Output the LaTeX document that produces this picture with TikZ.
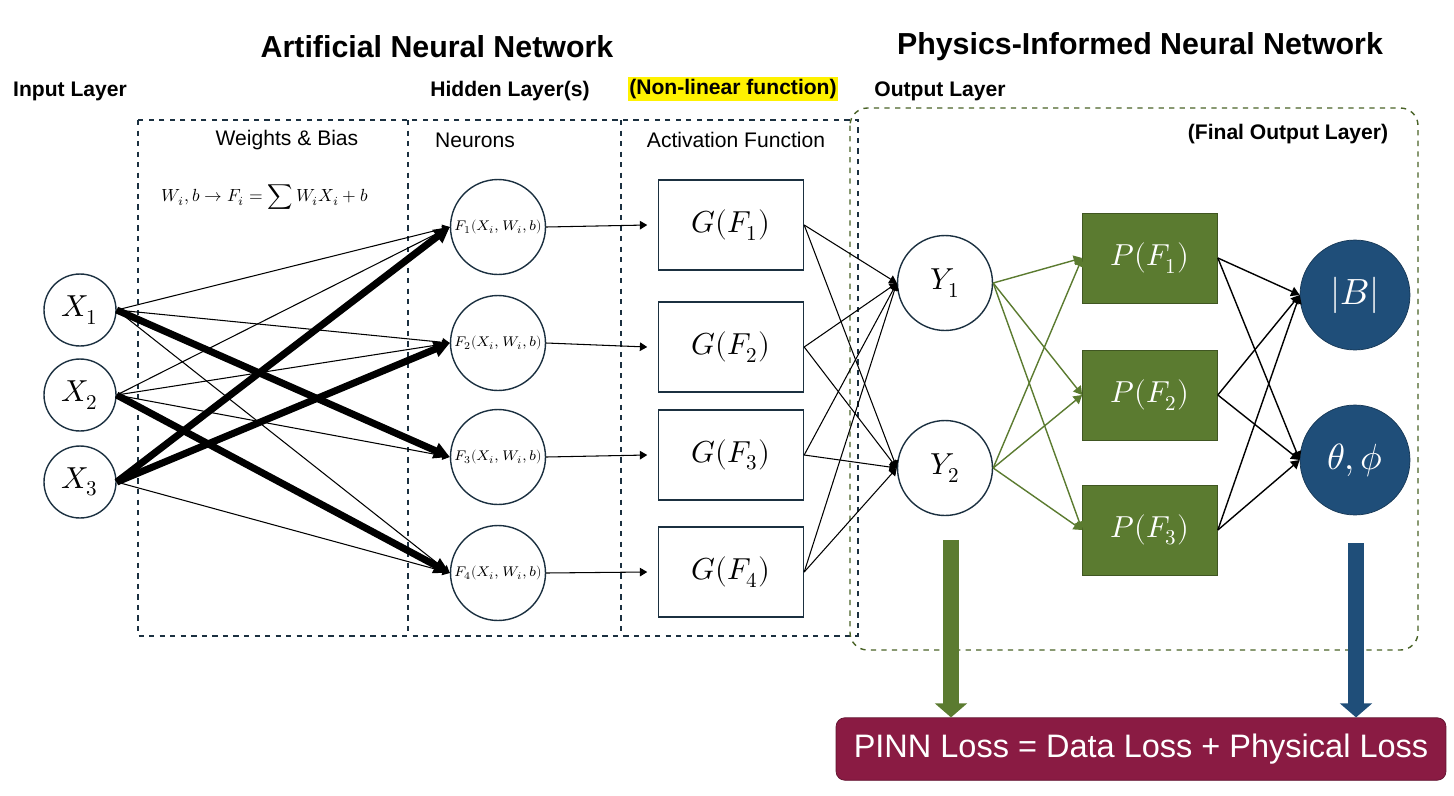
\documentclass[tikz,border=0pt]{standalone}
\usepackage{fontspec}
\setmainfont{Liberation Sans}
\usepackage{unicode-math}
\setmathfont{Latin Modern Math}
\usetikzlibrary{arrows.meta,positioning}
\definecolor{olive}{HTML}{5B7B30}
\definecolor{navy}{HTML}{1F4E79}
\definecolor{maroon}{HTML}{8A1B43}
\definecolor{ring}{HTML}{1B3040}
\begin{document}
\begin{tikzpicture}[
        x=0.02cm, y=-0.02cm,
        every node/.style={font=\small},
        inp/.style={circle, draw=ring, thick, minimum size=1.44cm, inner sep=0pt, font=\LARGE},
        neuron/.style={circle, draw=ring, thick, minimum size=1.9cm, inner sep=0pt, font=\footnotesize},
        act/.style={rectangle, draw=ring, thick, minimum width=2.9cm, minimum height=1.8cm, font=\LARGE},
        outc/.style={circle, draw=ring, thick, minimum size=1.9cm, inner sep=0pt, font=\LARGE},
        phys/.style={rectangle, draw=olive!70!black, fill=olive, text=white, minimum width=2.7cm, minimum height=1.8cm, font=\LARGE},
        final/.style={circle, draw=navy!70!black, fill=navy, text=white, minimum size=2.2cm, inner sep=0pt, font=\huge},
        head/.style={font=\bfseries\LARGE},
        sub/.style={font=\bfseries\large},
        lbl/.style={font=\large},
        line/.style={-Triangle, semithick},
        heavy/.style={-{Triangle[length=9pt,width=9pt]}, line width=4pt},
        gline/.style={-Triangle, olive, thick},
        fat/.style={-{Triangle[length=8pt,width=18pt]}, line width=9pt}
    ]
        \useasboundingbox (0,0) rectangle (1454,795);
        % headings
        \node[head] at (437,47) {Artificial Neural Network};
        \node[head] at (1140,47) {Physics-Informed Neural Network};
        \node[sub] at (70,91) {Input Layer};
        \node[sub] at (510,91) {Hidden Layer(s)};
        \node[sub, fill=yellow, inner sep=1pt] at (733,89) {(Non-linear function)};
        \node[sub] at (940,91) {Output Layer};
        \node[sub] at (1288,134) {(Final Output Layer)};
        % frames
        \draw[dashed, thick, ring] (138,120) rectangle (858,636);
        \draw[dashed, thick, ring] (408,120) -- (408,636);
        \draw[dashed, thick, ring] (621,120) -- (621,636);
        \draw[dashed, thick, olive!80!black, rounded corners=10pt] (850,108) rectangle (1418,650);
        \node[lbl] at (287,140) {Weights \& Bias};
        \node[lbl] at (475,140) {Neurons};
        \node[lbl] at (736,140) {Activation Function};
        \node[font=\normalsize] at (265,197) {$W_i, b \rightarrow F_i = \displaystyle\sum W_i X_i + b$};
        % nodes
        \node[inp] (x1) at (80,310) {$X_1$};
        \node[inp] (x2) at (80,395) {$X_2$};
        \node[inp] (x3) at (80,482) {$X_3$};
        \foreach \i/\y in {1/227,2/343,3/457,4/573}{
            \node[neuron] (f\i) at (498,\y) {$F_\i(X_i,W_i,b)$};
        }
        \foreach \i/\y in {1/225,2/347,3/455,4/572}{
            \node[act] (g\i) at (731,\y) {$G(F_\i)$};
        }
        \node[outc] (y1) at (945,283) {$Y_1$};
        \node[outc] (y2) at (945,468) {$Y_2$};
        \node[phys] (p1) at (1150,258) {$P(F_1)$};
        \node[phys] (p2) at (1150,395) {$P(F_2)$};
        \node[phys] (p3) at (1150,530) {$P(F_3)$};
        \node[final] (b) at (1355,295) {$|B|$};
        \node[final] (t) at (1355,460) {$\theta,\phi$};
        \node[rectangle, rounded corners=5pt, fill=maroon, draw=maroon!70!black, text=white, inner sep=0pt, minimum width=12.2cm, minimum height=1.25cm, font=\fontsize{18.5}{22}\selectfont] (loss) at (1141,749) {PINN Loss = Data Loss + Physical Loss};
        % input to neurons
        \foreach \a/\b in {x1/f1,x1/f2,x1/f4,x2/f1,x2/f2,x2/f3,x3/f4}{
            \draw[line] (\a.east) -- (\b.west);
        }
        \foreach \a/\b in {x1/f3,x2/f4,x3/f1,x3/f2}{
            \draw[heavy] (\a.east) -- (\b.west);
        }
        % neurons to activation
        \foreach \i in {1,...,4}{
            \draw[line] (f\i.east) -- ([xshift=-6pt]g\i.west);
        }
        % activation to outputs
        \foreach \i in {1,...,4}{
            \draw[line] (g\i.east) -- (y1.west);
            \draw[line] (g\i.east) -- (y2.west);
        }
        % outputs to physics
        \foreach \a in {y1,y2}{
            \foreach \b in {p1,p2,p3}{
                \draw[gline] (\a.east) -- (\b.west);
            }
        }
        % physics to final
        \foreach \a in {p1,p2,p3}{
            \draw[line, thick] (\a.east) -- (b.west);
            \draw[line, thick] (\a.east) -- (t.west);
        }
        % losses
        \coordinate (ga) at (951,540);
        \coordinate (ba) at (1356,543);
        \draw[fat, olive] (ga) -- (ga |- loss.north);
        \draw[fat, navy] (ba) -- (ba |- loss.north);
    \end{tikzpicture}
\end{document}
